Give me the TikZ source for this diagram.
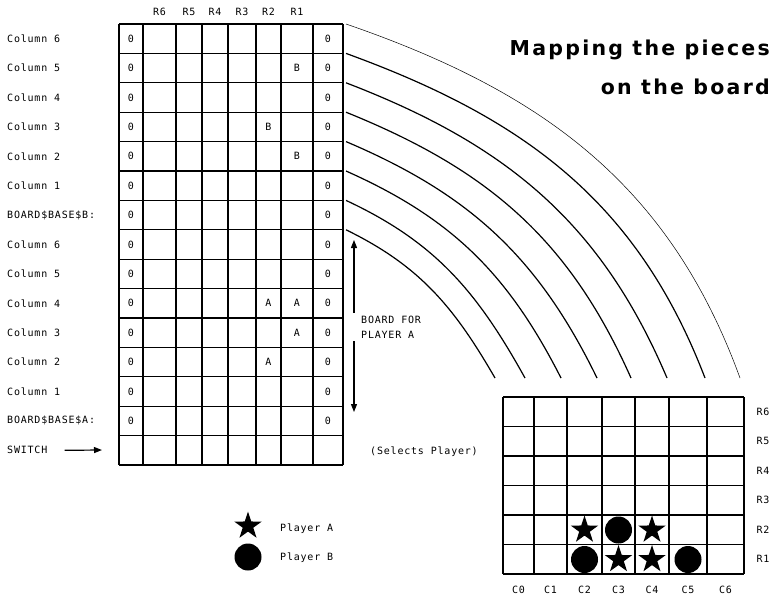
\documentclass[tikz,border=0pt]{standalone}
\usepackage{fontspec}
\setmonofont[LetterSpace=8]{DejaVu Sans Mono}
\newfontfamily\titlefont[LetterSpace=11]{DejaVu Sans Bold}
\usetikzlibrary{arrows.meta,shapes.geometric}

\tikzset{
  lbl/.style={font=\fontsize{10}{15}\ttfamily, inner sep=1pt},
  ttl/.style={font=\fontsize{20.5}{24}\titlefont, inner sep=0pt, anchor=base east},
  gridline/.style={line width=1.3pt},
  pointer/.style={-{Triangle[length=8pt,width=6pt]}, line width=1.2pt},
  disc/.style={circle, fill=black, minimum size=27pt, inner sep=0pt},
  starpc/.style={star, star points=5, star point ratio=2.6, fill=black, minimum size=29pt, inner sep=0pt},
}

\begin{document}
\begin{tikzpicture}[x=1pt,y=1pt]
  \useasboundingbox (0,0) rectangle (775,-599);

  % memory table, 15 rows
  \foreach \x in {119,143,176,202,228,256,281,313,343} {
    \draw[gridline] (\x,-24) -- (\x,-465);
  }
  \foreach \i in {0,...,15} {
    \draw[gridline] (119,{-24-\i*29.4}) -- (343,{-24-\i*29.4});
  }

  % row names
  \foreach \t [count=\i] in {Column 6,Column 5,Column 4,Column 3,Column 2,Column 1,BOARD\$BASE\$B:,Column 6,Column 5,Column 4,Column 3,Column 2,Column 1,BOARD\$BASE\$A:,SWITCH} {
    \node[lbl,anchor=west] (row\i) at (6,{-24-(\i-0.5)*29.4}) {\t};
  }

  % column names
  \foreach \t/\x in {R6/159.5,R5/189,R4/215,R3/242,R2/268.5,R1/297} {
    \node[lbl] (hd\t) at (\x,-12) {\t};
  }

  % zeros at both ends
  \foreach \i in {1,...,14} {
    \node[lbl] (zl\i) at (131,{-24-(\i-0.5)*29.4}) {0};
    \node[lbl] (zr\i) at (328,{-24-(\i-0.5)*29.4}) {0};
  }

  % pieces held in the table
  \foreach \r/\x/\t [count=\k] in {2/297/B,4/268.5/B,5/297/B,10/268.5/A,10/297/A,11/297/A,12/268.5/A} {
    \node[lbl] (pc\k) at (\x,{-24-(\r-0.5)*29.4}) {\t};
  }

  % switch
  \coordinate (swtip) at (102,-450);
  \draw[pointer] ([xshift=16pt]row15.east) -- (swtip);
  \node[lbl] (sel) at (424,-452) {(Selects Player)};

  % board for player A
  \node[lbl, anchor=west, align=left, inner ysep=3pt] (bfp) at (360,-327) {BOARD FOR\\PLAYER A};
  \coordinate (atop) at (354,-240);
  \coordinate (abot) at (354,-412);
  \draw[pointer] (atop |- bfp.north) -- (atop);
  \draw[pointer] (abot |- bfp.south) -- (abot);

  % mapping arcs
  \foreach \i/\ex/\ao/\ai/\lw in {0/740/-19/110/0.5,1/705/-20/111/1.2,2/667/-21/113/1.2,3/631/-22/114/1.2,4/597/-23/116/1.2,5/561/-24/117/1.2,6/525/-25/119/1.2,7/495/-26/120/1.2} {
    \coordinate (s\i) at (346,{-24-\i*29.4});
    \coordinate (e\i) at (\ex,-378);
    \draw[line width=\lw pt] (s\i) to[out=\ao,in=\ai] (e\i);
  }

  % the board
  \foreach \x in {503,534,567,602,635,669,707,744} {
    \draw[gridline] (\x,-397) -- (\x,-574);
  }
  \foreach \j in {0,...,6} {
    \draw[gridline] (503,{-397-\j*29.5}) -- (744,{-397-\j*29.5});
  }
  \foreach \t [count=\j] in {R6,R5,R4,R3,R2,R1} {
    \node[lbl] (rr\t) at (763,{-397-(\j-0.5)*29.5}) {\t};
  }
  \foreach \t/\x in {C0/518.5,C1/550.5,C2/584.5,C3/618.5,C4/652,C5/688,C6/725.5} {
    \node[lbl] (cc\t) at (\x,-590) {\t};
  }

  % counters
  \node[starpc] (a1) at (584.5,-530) {};
  \node[disc] (b1) at (618.5,-530) {};
  \node[starpc] (a2) at (652,-530) {};
  \node[disc] (b2) at (584.5,-559.5) {};
  \node[starpc] (a3) at (618.5,-559.5) {};
  \node[starpc] (a4) at (652,-559.5) {};
  \node[disc] (b3) at (688,-559.5) {};

  % key
  \node[starpc] (keya) at (248,-526) {};
  \node[disc] (keyb) at (248,-557) {};
  \node[lbl,anchor=west] (keyat) at (279,-529) {Player A};
  \node[lbl,anchor=west] (keybt) at (279,-558) {Player B};

  % title
  \node[ttl] (title1) at (770,-56) {Mapping the pieces};
  \node[ttl] (title2) at (770,-95) {on the board};
\end{tikzpicture}
\end{document}
